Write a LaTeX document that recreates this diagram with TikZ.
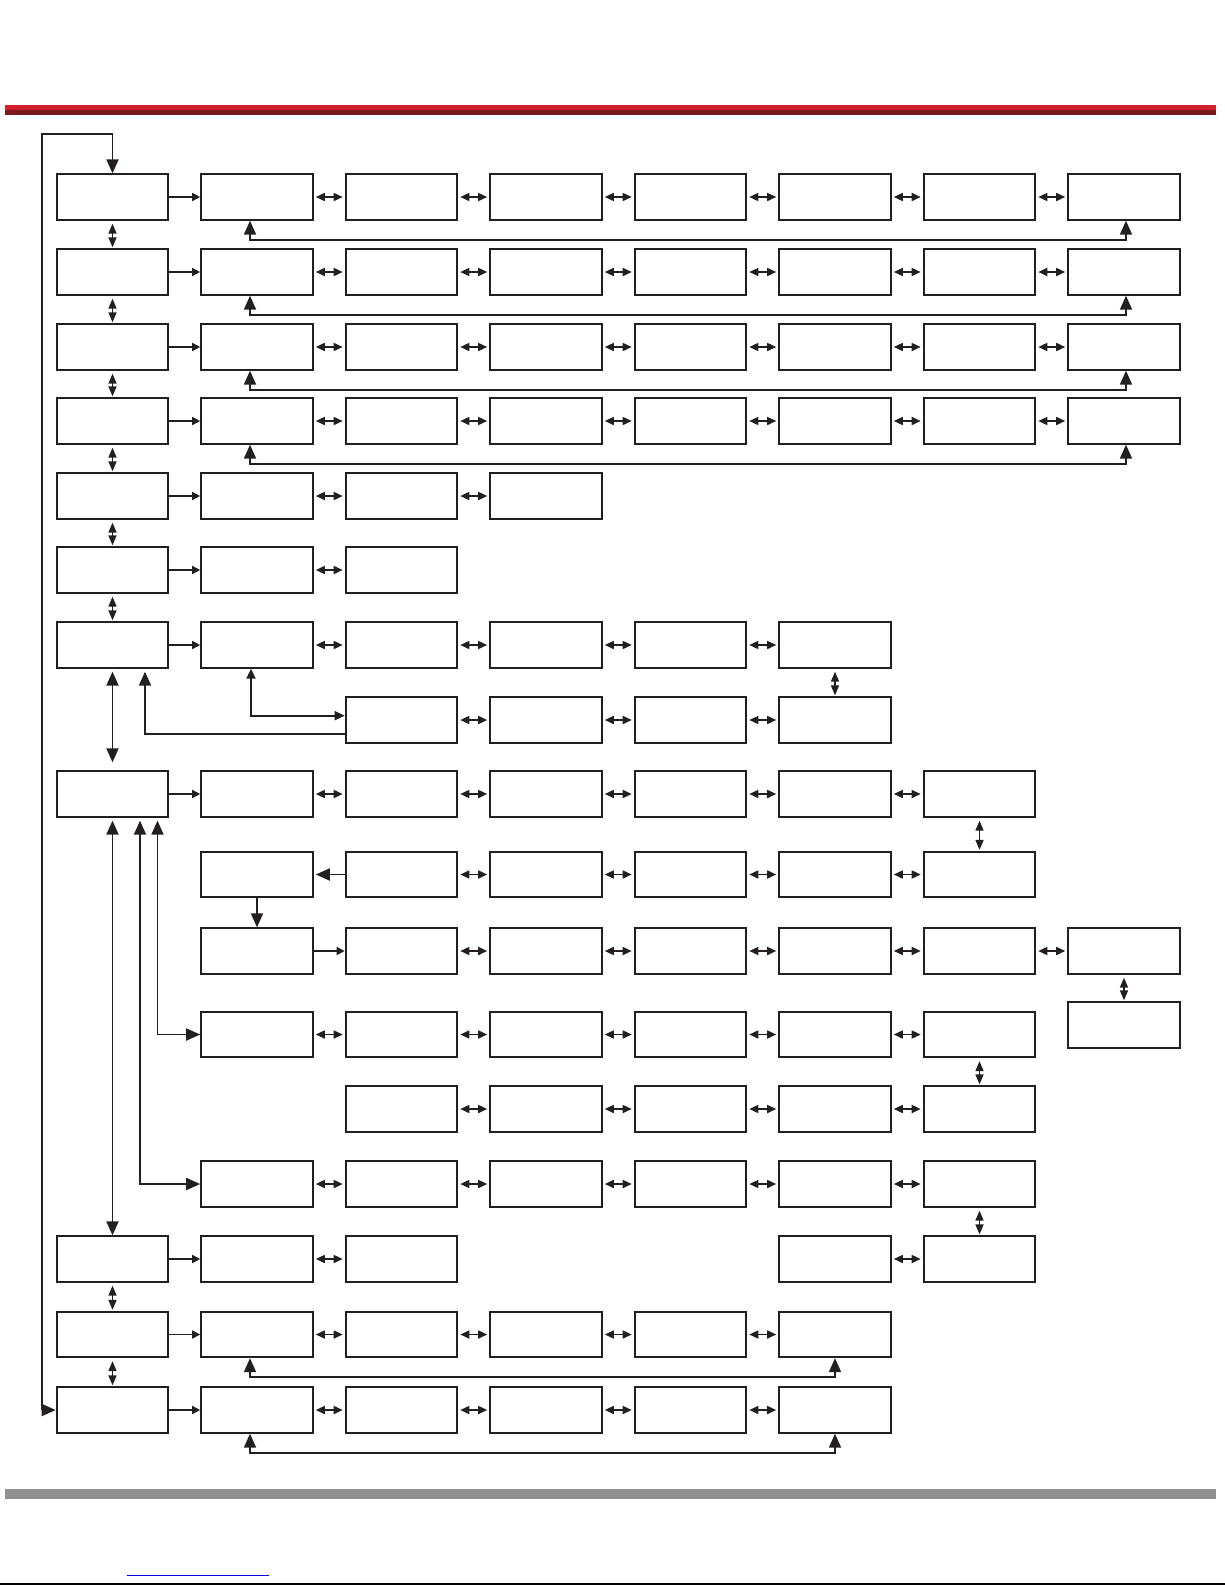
\documentclass[tikz,border=0pt]{standalone}
\usetikzlibrary{arrows.meta}

\definecolor{ink}{RGB}{35,31,32}
\definecolor{barred}{RGB}{208,32,46}
\definecolor{bardark}{RGB}{122,26,32}
\definecolor{bargray}{RGB}{145,145,145}
\definecolor{linkblue}{RGB}{0,0,220}

\tikzset{
  box/.style={draw=ink, line width=2pt, minimum width=111.6pt, minimum height=45.3pt, inner sep=0pt},
  onto/.style={draw=ink, line width=1.6pt, -{Triangle[length=8pt,width=8pt]}},
  twoway/.style={draw=ink, line width=1.6pt, {Triangle[length=9pt,width=8pt]}-{Triangle[length=9pt,width=8pt]}, shorten <=2pt, shorten >=2pt},
  updown/.style={draw=ink, line width=1.6pt, {Triangle[length=10pt,width=8pt]}-{Triangle[length=10pt,width=8pt]}, shorten <=3pt, shorten >=1pt},
  midboth/.style={draw=ink, line width=1.8pt, {Triangle[length=10pt,width=9pt]}-{Triangle[length=10pt,width=9pt]}},
  bigtip/.style={draw=ink, line width=1.8pt, -{Triangle[length=14pt,width=12pt]}},
  bigboth/.style={draw=ink, line width=1.8pt, {Triangle[length=14pt,width=12pt]}-{Triangle[length=14pt,width=12pt]}}
}

\begin{document}
\begin{tikzpicture}[x=1pt, y=-1pt]
\useasboundingbox (0,0) rectangle (1225,1585);

% bars
\fill[barred] (5,105) rectangle (1216,109.5);
\fill[bardark] (5,109.5) rectangle (1216,115);
\fill[bargray] (5,1489) rectangle (1216,1499);
\draw[linkblue, line width=1pt] (127,1575) -- (269,1575);
\draw[line width=1.5pt] (0,1584) -- (1225,1584);

% boxes, row by row
\foreach \r/\y/\cols in {1/197/{1,...,8}, 2/272/{1,...,8}, 3/347/{1,...,8}, 4/421/{1,...,8},
    5/496/{1,...,4}, 6/570/{1,...,3}, 7/645/{1,...,6}, 8/720/{3,...,6}, 9/794/{1,...,7},
    10/874.5/{2,...,7}, 11/951/{2,...,8}, 12/1025/{8}, 13/1034.5/{2,...,7}, 14/1109/{3,...,7},
    15/1184/{2,...,7}, 16/1259/{1,2,3,6,7}, 17/1334.5/{1,...,6}, 18/1410/{1,...,6}}
  \foreach \c in \cols
    \node[box] (b\r-\c) at ({112.5+(\c-1)*144.5},\y) {};

% along the rows
\foreach \r/\n in {1/8, 2/8, 3/8, 4/8, 5/4, 6/3, 7/6, 9/7, 17/6, 18/6} {
  \draw[onto] (b\r-1) -- (b\r-2);
  \foreach \c [remember=\c as \p (initially 2)] in {3,...,\n}
    \draw[twoway] (b\r-\p) -- (b\r-\c);
}
\foreach \r/\s/\n in {8/3/6, 10/3/7, 11/3/8, 13/2/7, 14/3/7, 15/2/7} {
  \pgfmathtruncatemacro\t{\s+1}
  \foreach \c [remember=\c as \p (initially \s)] in {\t,...,\n}
    \draw[twoway] (b\r-\p) -- (b\r-\c);
}
\draw[onto] (b11-2) -- (b11-3);
\draw[bigtip, shorten >=2pt] (b10-3) -- (b10-2);
\draw[bigtip] (b10-2) -- (b11-2);
\draw[onto] (b16-1) -- (b16-2);
\draw[twoway] (b16-2) -- (b16-3);
\draw[twoway] (b16-6) -- (b16-7);

% up and down
\foreach \a/\b in {1-1/2-1, 2-1/3-1, 3-1/4-1, 4-1/5-1, 5-1/6-1, 6-1/7-1, 7-6/8-6,
    9-7/10-7, 11-8/12-8, 13-7/14-7, 15-7/16-7, 16-1/17-1, 17-1/18-1}
  \draw[updown] (b\a) -- (b\b);

% long links from the first column
\draw[bigboth, shorten <=3pt, shorten >=8pt] (b7-1) -- (b9-1);
\draw[bigboth, shorten <=3pt] (b9-1) -- (b16-1);
\draw[bigboth, shorten <=3pt] ([xshift=27.5pt]b9-1.south) |- (b15-2.west);
\draw[bigboth, shorten <=3pt] ([xshift=45pt]b9-1.south) |- (b13-2.west);
\draw[midboth] ([xshift=-6pt]b7-2.south) |- ([yshift=4.3pt]b8-3.west);
\draw[bigtip, shorten >=3pt] ([yshift=-14pt]b8-3.west) -| ([xshift=32.5pt]b7-1.south);

% loops back to the second column
\foreach \r in {1,...,4}
  \draw[bigboth] ([xshift=-7pt]b\r-2.south) -- ++(0,19) -| ([xshift=2pt]b\r-8.south);
\foreach \r in {17,18}
  \draw[bigboth] ([xshift=-7pt]b\r-2.south) -- ++(0,19) -| (b\r-6.south);

% outer loop
\coordinate (corner) at (42.3,134.3);
\draw[bigboth] (b1-1.north) |- (corner) |- (b18-1.west);

\end{tikzpicture}
\end{document}
